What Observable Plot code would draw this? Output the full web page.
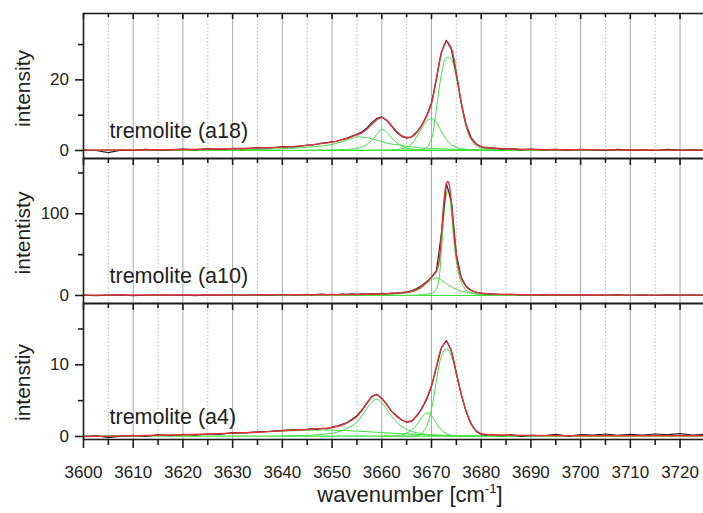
<!DOCTYPE html>
<html>
<head>
<meta charset="utf-8">
<script src="https://cdn.jsdelivr.net/npm/d3@7"></script>
<script src="https://cdn.jsdelivr.net/npm/@observablehq/plot@0.6"></script>
<style>
  html, body { margin: 0; padding: 0; background: #fff; overflow: hidden; }
  #wrap { position: relative; width: 703px; height: 513px; overflow: hidden; font-family: "Liberation Sans", Arial, Helvetica, sans-serif; color: #222; }
  #wrap svg { position: absolute; left: 0; }
  #xtitle { position: absolute; left: 410px; top: 483.5px; transform: translateX(-50%); font-size: 22px; line-height: 22px; white-space: nowrap; }
  #xtitle sup { font-size: 0.6em; vertical-align: 0.65em; line-height: 0; }
</style>
</head>
<body>
<div id="wrap"><div id="xtitle">wavenumber [cm<sup>-1</sup>]</div></div>
<script>
// ---------- tick values / labels ----------
const X_MAJOR = [3600, 3610, 3620, 3630, 3640, 3650, 3660, 3670, 3680, 3690, 3700, 3710, 3720];
const X_MINOR = [3605, 3615, 3625, 3635, 3645, 3655, 3665, 3675, 3685, 3695, 3705, 3715];
const Y_MAJOR_A18 = [0, 20];
const Y_MINOR_A18 = [10, 30];
const Y_MAJOR_A10 = [0, 100];
const Y_MINOR_A10 = [50, 150];
const Y_MAJOR_A4 = [0, 10];
const Y_MINOR_A4 = [5, 15];
const SAMPLE_LABELS = ["tremolite (a18)", "tremolite (a10)", "tremolite (a4)"];
const Y_TITLES = ["intensity", "intentisty", "intenstiy"];

// ---------- measured spectra (wavenumber grid) ----------
const X_DATA = [3600,3602.5,3605,3607.5,3610,3612.5,3615,3617.5,3620,3622.5,3625,3627.5,3630,3632.5,3635,3637.5,3640,3642.5,3645,
  3646,3647,3648,3649,3650,3651,3652,3653,3654,3655,3656,3657,3658,3659,3660,3661,3662,3663,3664,3665,3666,3667,3668,3669,3670,3671,3672,3673,3674,3675,3676,3677,3678,3679,3680,3681,3682,
  3684,3686,3688,3690,
  3692.5,3695,3697.5,3700,3702.5,3705,3707.5,3710,3712.5,3715,3717.5,3720,3722.5,3725];

const DATA_A18 = [0.1,0.0,-0.6,0.1,0.0,0.3,0.1,0.2,0.4,0.2,0.5,0.3,0.6,0.5,0.8,0.7,1.1,1.0,1.5,
  1.6,1.8,2.1,2.2,2.5,2.6,3.1,3.5,4.1,4.6,5.3,6.4,7.9,9.1,9.5,8.5,6.8,5.1,4.0,3.5,3.9,5.2,7.0,9.8,13.5,20.2,27.9,31.2,28.6,21.6,13.3,7.2,3.6,1.9,1.0,0.7,0.8,
  0.4,0.5,0.2,0.4,
  0.2,0.3,0.1,0.3,0.2,0.0,0.3,0.1,0.2,0.0,0.3,0.1,0.2,0.1];

const DATA_A10 = [0.5,-0.3,0.4,0.8,-0.2,0.3,0.9,0.1,0.6,-0.1,0.7,0.2,0.9,0.3,1.0,0.4,1.2,0.6,1.4,
  0.8,1.3,1.6,1.0,1.5,1.2,1.8,1.3,1.9,1.5,2.1,1.8,2.3,2.0,2.6,2.4,2.9,3.0,3.6,4.5,5.8,8.5,12.0,17.0,22.5,30.5,76,137,116,51,22,11,6.5,4.0,3.0,2.2,1.9,
  1.2,1.5,0.8,1.1,
  0.5,0.9,0.3,0.7,0.2,0.6,1.0,0.3,0.7,0.2,0.8,0.4,0.9,0.5];

const DATA_A4 = [0.0,0.1,-0.15,0.05,0.15,0.0,0.25,0.1,0.3,0.2,0.35,0.3,0.55,0.5,0.65,0.7,0.85,0.95,1.0,
  1.1,1.0,1.15,1.1,1.3,1.45,1.7,1.95,2.4,2.9,3.7,4.7,5.6,5.9,5.3,4.5,3.5,2.9,2.3,2.0,2.1,2.8,3.8,5.1,7.0,9.6,12.4,13.4,12.0,8.9,5.8,3.4,1.7,0.7,0.3,0.2,0.3,
  0.1,0.25,0.0,0.15,
  0.1,0.3,0.05,0.25,0.2,0.35,0.15,0.3,0.2,0.35,0.25,0.4,0.2,0.3];

// ---------- cumulative fits ----------
const X_FIT = [3600,3610,3620,3630,3635,3640,3642,3644,
  3646,3647,3648,3649,3650,3651,3652,3653,3654,3655,3656,3657,3658,3659,3660,3661,3662,3663,3664,3665,3666,3667,3668,3669,3670,3671,3672,3673,3674,3675,3676,3677,3678,3679,3680,3681,3682,
  3685,3690,3700,3710,3720,3725];
const FIT_A18 = [0.1,0.15,0.3,0.5,0.7,0.95,1.1,1.3,
  1.6,1.8,2.0,2.2,2.4,2.7,3.0,3.4,3.9,4.4,5.0,6.0,7.4,8.7,9.3,8.6,7.0,5.4,4.2,3.7,3.8,5.0,7.1,9.6,13.2,20.6,27.6,30.8,28.9,22.0,13.6,7.0,3.4,1.8,1.1,0.85,0.7,
  0.5,0.3,0.2,0.15,0.1,0.1];
const FIT_A4 = [0.0,0.1,0.25,0.47,0.6,0.8,0.88,0.95,
  1.03,1.07,1.1,1.15,1.25,1.4,1.6,1.9,2.3,2.8,3.6,4.6,5.5,5.8,5.3,4.4,3.5,2.8,2.3,2.05,2.2,2.9,3.9,5.3,7.1,9.8,12.3,13.2,11.8,8.8,5.9,3.5,1.8,0.8,0.4,0.3,0.25,
  0.2,0.15,0.1,0.1,0.1,0.1];
const X_FIT_A10 = [3600,3620,3640,3650,3655,3660,3662,3664,3665,3666,3667,3668,3669,3670,3670.5,3671,3671.5,3672,3672.5,3673,3673.3,3673.5,3674,3674.5,3675,3675.5,3676,3676.5,3677,3678,3679,3680,3682,3685,3690,3700,3710,3725];
const FIT_A10 = [0.5,0.6,0.8,1.0,1.3,1.9,2.4,3.2,3.9,5.1,7.2,10.8,16.0,22.0,25.5,29.6,40.5,74,115,137,139.5,137.5,114.5,78.5,49.5,32,21,15,10.4,6.0,4.0,2.8,1.9,1.3,0.9,0.6,0.5,0.5];

// ---------- baselines ----------
const BASE_X = [3600, 3725];
const BASE_A18 = [0.05, 0.05];
const BASE_A10 = [0, 0];
const BASE_A4 = [0.05, 0.05];

// ---------- fitted components: a18 ----------
const A18_C1_X = [3600,3620,3630,3635,3640,3645,3648,3650,3652,3654,3655,3656,3657,3658,3660,3662,3664,3665,3666,3668,3670,3675,3680,3690,3700];
const A18_C1_Y = [0.05,0.12,0.2,0.3,0.5,0.9,1.3,1.7,2.5,3.4,3.8,3.8,3.6,3.3,2.5,1.8,1.5,1.2,1.0,0.7,0.55,0.35,0.2,0.1,0.05];
const A18_C2_X = [3645,3650,3652,3654,3655,3656,3657,3658,3659,3660,3661,3662,3663,3664,3665,3666,3667,3668,3670,3675];
const A18_C2_Y = [0.05,0.15,0.25,0.4,0.6,1.0,1.7,2.9,4.6,6.0,5.2,3.6,2.2,1.3,0.7,0.4,0.25,0.15,0.08,0.02];
const A18_C3_X = [3655,3660,3662,3663,3664,3665,3666,3667,3668,3669,3670,3671,3672,3673,3674,3675,3676,3677,3678,3680,3685];
const A18_C3_Y = [0.05,0.1,0.2,0.3,0.5,0.9,1.9,3.8,6.2,8.3,9.0,7.9,5.4,3.1,1.6,0.9,0.5,0.3,0.2,0.1,0.03];
const A18_C4_X = [3664,3666,3668,3669,3670,3671,3672,3673,3674,3675,3676,3677,3678,3679,3680,3682,3685,3690,3700];
const A18_C4_Y = [0.1,0.2,0.3,0.8,3.3,12.0,21.5,26.3,25.8,20.5,13.0,6.5,3.0,1.3,0.7,0.3,0.15,0.05,0.02];

// ---------- fitted components: a10 ----------
const A10_C1_X = [3650,3655,3660,3662,3664,3665,3666,3667,3668,3669,3670,3671,3672,3673,3674,3675,3676,3677,3678,3680,3682,3685,3690,3700];
const A10_C1_Y = [0.4,0.6,1.0,1.5,2.3,3.0,4.2,6.0,9.5,14.5,19.5,21.6,19.0,14.5,10.5,7.5,5.3,3.9,2.9,1.8,1.2,0.7,0.3,0.1];
const A10_C2_X = [3665,3668,3669,3670,3670.5,3671,3671.5,3672,3672.5,3673,3673.3,3673.5,3674,3674.5,3675,3675.5,3676,3676.5,3677,3678,3679,3680,3682,3685,3690];
const A10_C2_Y = [0.3,0.8,1.5,2.5,4.5,8,20,55,98,124,128.5,126,102,68,42,26,16,10,6.5,3,1.6,1.0,0.5,0.2,0.1];

// ---------- fitted components: a4 ----------
const A4_C1_X = [3600,3610,3620,3625,3630,3635,3640,3645,3648,3650,3655,3660,3665,3670,3675,3680,3690];
const A4_C1_Y = [0.05,0.1,0.2,0.3,0.45,0.6,0.75,0.85,0.9,0.88,0.75,0.55,0.35,0.2,0.1,0.05,0.02];
const A4_C2_X = [3640,3645,3648,3650,3652,3653,3654,3655,3656,3657,3658,3659,3660,3661,3662,3663,3664,3665,3666,3668,3670,3675,3680];
const A4_C2_Y = [0.08,0.15,0.3,0.45,0.8,1.1,1.5,2.0,2.9,3.9,4.8,5.2,4.7,3.8,2.8,2.0,1.4,1.0,0.7,0.4,0.25,0.1,0.05];
const A4_C3_X = [3660,3663,3664,3665,3666,3667,3668,3669,3670,3671,3672,3673,3674,3675,3678];
const A4_C3_Y = [0.02,0.1,0.2,0.45,0.9,1.6,2.6,3.3,2.9,1.8,0.9,0.4,0.15,0.05,0.0];
const A4_C4_X = [3664,3666,3667,3668,3669,3670,3671,3672,3673,3674,3675,3676,3677,3678,3679,3680,3682,3685];
const A4_C4_Y = [0.02,0.05,0.1,0.4,1.4,3.8,7.8,11.2,12.3,11.2,8.6,5.8,3.4,1.7,0.7,0.3,0.1,0.02];

// ---------- sanity check ----------
[[X_DATA, DATA_A18], [X_DATA, DATA_A10], [X_DATA, DATA_A4], [X_FIT, FIT_A18], [X_FIT, FIT_A4], [X_FIT_A10, FIT_A10],
 [A18_C1_X, A18_C1_Y], [A18_C2_X, A18_C2_Y], [A18_C3_X, A18_C3_Y], [A18_C4_X, A18_C4_Y],
 [A10_C1_X, A10_C1_Y], [A10_C2_X, A10_C2_Y],
 [A4_C1_X, A4_C1_Y], [A4_C2_X, A4_C2_Y], [A4_C3_X, A4_C3_Y], [A4_C4_X, A4_C4_Y]].forEach(([a, b], i) => {
  if (a.length !== b.length) throw new Error("length mismatch in series " + i + ": " + a.length + " vs " + b.length);
});

const FONT = '"Liberation Sans", Arial, Helvetica, sans-serif';
const GREEN = "#3ee23e";
const RED = "#e5323c";
const INK = "#1e1e1e";
const TXT = "#222";

function panel(cfg) {
  const H = cfg.height - cfg.mTop - cfg.mBottom;
  const marks = [
    Plot.ruleX(X_MAJOR.slice(1), {stroke: "#aaaaaa", strokeWidth: 1}),
    Plot.ruleX(X_MINOR, {stroke: "#b8b8b8", strokeWidth: 1, strokeDasharray: "1.5,2"}),
    Plot.line(BASE_X, {x: BASE_X, y: cfg.base, stroke: GREEN, strokeWidth: 1.2}),
    ...cfg.comps.map(([xs, ys]) => Plot.line(ys, {x: xs, y: ys, stroke: GREEN, strokeWidth: 1, curve: "catmull-rom"})),
    Plot.line(cfg.dataY, {x: X_DATA, y: cfg.dataY, stroke: "#2a2a2a", strokeWidth: 1.2}),
    Plot.line(cfg.fitY, {x: cfg.fitX, y: cfg.fitY, stroke: RED, strokeWidth: 1.4, curve: "catmull-rom"}),
    Plot.frame({stroke: INK, strokeWidth: 1.6}),
    // inward ticks along the top edge of each panel
    Plot.ruleX(X_MAJOR, {insetBottom: H - cfg.tMaj, stroke: INK, strokeWidth: 1.6}),
    Plot.ruleX(X_MINOR, {insetBottom: H - cfg.tMin, stroke: INK, strokeWidth: 1.6}),
    // left axis: tick marks + labels
    Plot.axisY({ticks: cfg.yMaj, tickSize: 8, tickFormat: () => "", label: null, strokeWidth: 1.6, stroke: INK}),
    Plot.axisY({ticks: cfg.yMin, tickSize: 5, tickFormat: () => "", label: null, strokeWidth: 1.6, stroke: INK}),
    Plot.text(cfg.yMaj, {y: d => d, text: d => String(d), frameAnchor: "left", textAnchor: "end", lineAnchor: "middle", dx: -14.5, fontSize: 17, fill: TXT}),
    Plot.text([cfg.label], {text: d => d, frameAnchor: "bottom-left", textAnchor: "start", lineAnchor: "middle", dx: 26, dy: cfg.labelDy, fontSize: 21.5, fill: TXT}),
    Plot.text([cfg.yTitle], {text: d => d, frameAnchor: "left", rotate: -90, textAnchor: "middle", lineAnchor: "middle", dx: -60, dy: cfg.yTitleDy, fontSize: 21, fill: TXT})
  ];
  if (cfg.bottomAxis) {
    marks.push(
      Plot.axisX({ticks: X_MAJOR, tickSize: 9, tickFormat: () => "", label: null, strokeWidth: 1.6, stroke: INK}),
      Plot.axisX({ticks: X_MINOR, tickSize: 6, tickFormat: () => "", label: null, strokeWidth: 1.6, stroke: INK}),
      Plot.text(X_MAJOR, {x: d => d, text: d => String(d), frameAnchor: "bottom", textAnchor: "middle", lineAnchor: "top", dy: 26, fontSize: 17, fill: TXT})
    );
  }
  const svg = Plot.plot({
    width: 703,
    height: cfg.height,
    marginLeft: 83,
    marginRight: -1.4,
    marginTop: cfg.mTop,
    marginBottom: cfg.mBottom,
    x: {domain: [3600, 3725], axis: cfg.bottomAxis ? undefined : null},
    y: {domain: cfg.yDomain},
    style: {fontFamily: FONT, fontSize: "17px", color: TXT, background: "transparent", overflow: "visible"},
    marks
  });
  svg.style.top = cfg.top + "px";
  return svg;
}

const wrap = document.getElementById("wrap");
wrap.appendChild(panel({
  top: 0, height: 158, mTop: 13, mBottom: 0,
  yDomain: [-2.27, 38.8], yMaj: Y_MAJOR_A18, yMin: Y_MINOR_A18,
  base: BASE_A18,
  comps: [[A18_C1_X, A18_C1_Y], [A18_C2_X, A18_C2_Y], [A18_C3_X, A18_C3_Y], [A18_C4_X, A18_C4_Y]],
  fitX: X_FIT, fitY: FIT_A18, dataY: DATA_A18,
  label: SAMPLE_LABELS[0], labelDy: -27, yTitle: Y_TITLES[0], yTitleDy: 2.5,
  tMaj: 6, tMin: 4, bottomAxis: false
}));
wrap.appendChild(panel({
  top: 158, height: 145, mTop: 0, mBottom: 0,
  yDomain: [-9.8, 167.7], yMaj: Y_MAJOR_A10, yMin: Y_MINOR_A10,
  base: BASE_A10,
  comps: [[A10_C1_X, A10_C1_Y], [A10_C2_X, A10_C2_Y]],
  fitX: X_FIT_A10, fitY: FIT_A10, dataY: DATA_A10,
  label: SAMPLE_LABELS[1], labelDy: -27.2, yTitle: Y_TITLES[1], yTitleDy: 2,
  tMaj: 7, tMin: 5, bottomAxis: false
}));
wrap.appendChild(panel({
  top: 303, height: 210, mTop: 0, mBottom: 74,
  yDomain: [-0.42, 18.55], yMaj: Y_MAJOR_A4, yMin: Y_MINOR_A4,
  base: BASE_A4,
  comps: [[A4_C1_X, A4_C1_Y], [A4_C2_X, A4_C2_Y], [A4_C3_X, A4_C3_Y], [A4_C4_X, A4_C4_Y]],
  fitX: X_FIT, fitY: FIT_A4, dataY: DATA_A4,
  label: SAMPLE_LABELS[2], labelDy: -22, yTitle: Y_TITLES[2], yTitleDy: 11,
  tMaj: 7, tMin: 5, bottomAxis: true
}));
</script>
</body>
</html>
